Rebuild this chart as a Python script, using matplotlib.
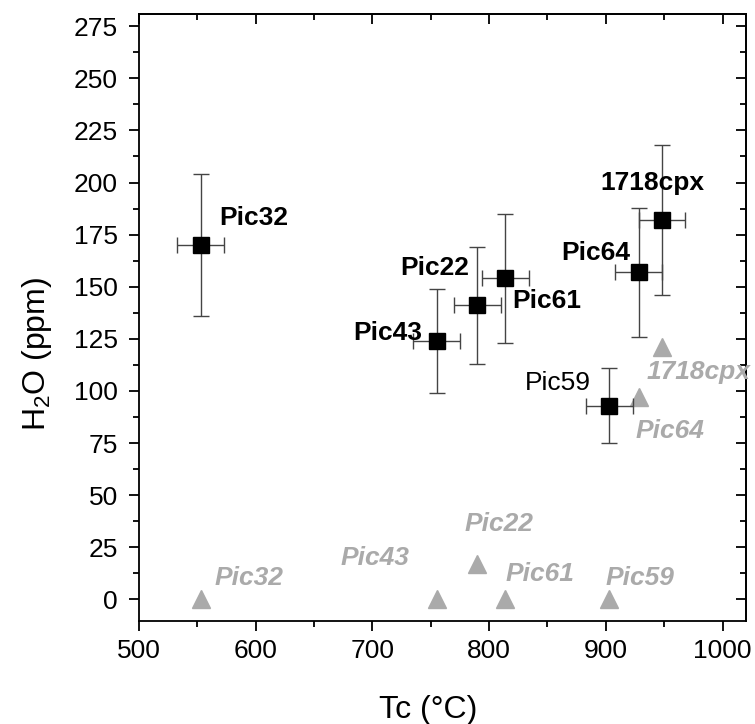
import numpy as np
import matplotlib
matplotlib.use('Agg')
import matplotlib.pyplot as plt
from matplotlib.ticker import MultipleLocator

plt.rcParams['font.family'] = ['Liberation Sans', 'DejaVu Sans']
plt.rcParams['mathtext.fontset'] = 'custom'
plt.rcParams['mathtext.rm'] = 'Liberation Sans'

# measured samples (squares with error bars)
names = ['Pic32', 'Pic43', 'Pic22', 'Pic61', 'Pic59', 'Pic64', '1718cpx']
tc = [553, 755, 790, 814, 903, 928, 948]
tc_err = [20, 20, 20, 20, 20, 20, 20]
h2o = [170, 124, 141, 154, 93, 157, 182]
h2o_err = [34, 25, 28, 31, 18, 31, 36]

# second series (grey triangles)
h2o_tri = [0, 0, 17, 0, 0, 97, 121]

# label positions (data coords)
lab_black = {
    'Pic32': (569, 183, 'left'),
    'Pic43': (743, 128, 'right'),
    'Pic22': (783, 159, 'right'),
    'Pic61': (820, 143, 'left'),
    'Pic59': (887, 104, 'right'),
    'Pic64': (921, 166, 'right'),
    '1718cpx': (895, 200, 'left'),
}
lab_grey = {
    'Pic32': (565, 10, 'left'),
    'Pic43': (732, 20, 'right'),
    'Pic22': (779, 36, 'left'),
    'Pic61': (814, 12, 'left'),
    'Pic59': (900, 10, 'left'),
    'Pic64': (925, 81, 'left'),
    '1718cpx': (935, 109, 'left'),
}

grey = '#aaaaaa'

fig = plt.figure(figsize=(7.55, 7.24), dpi=100)
ax = fig.add_axes([0.184, 0.142, 0.804, 0.839])

ax.plot(tc, h2o_tri, linestyle='none', marker='^', ms=13, color=grey, mec=grey, zorder=2)
ax.errorbar(tc, h2o, xerr=tc_err, yerr=h2o_err, fmt='s', ms=11, color='black',
            ecolor='#444444', elinewidth=1, capsize=6, capthick=1, zorder=3)

for n in names:
    x, y, ha = lab_black[n]
    ax.text(x, y, n, ha=ha, va='center', fontsize=19,
            fontweight='normal' if n == 'Pic59' else 'bold', color='black')
    x, y, ha = lab_grey[n]
    ax.text(x, y, n, ha=ha, va='center', fontsize=19, fontweight='bold',
            style='italic', color=grey)

ax.set_xlim(500, 1020)
ax.set_ylim(-10.5, 281)
ax.xaxis.set_major_locator(MultipleLocator(100))
ax.xaxis.set_minor_locator(MultipleLocator(50))
ax.yaxis.set_major_locator(MultipleLocator(25))
ax.yaxis.set_minor_locator(MultipleLocator(12.5))

ax.tick_params(which='both', direction='out', top=False, right=False, labelsize=19, width=1.3)
ax.tick_params(which='major', length=7)
ax.tick_params(which='minor', length=4)
ax.tick_params(axis='y', which='major', pad=8)
ax.tick_params(axis='x', which='major', pad=6)

# inward ticks on top and right
axt = ax.secondary_xaxis('top')
axt.xaxis.set_major_locator(MultipleLocator(100))
axt.xaxis.set_minor_locator(MultipleLocator(50))
axt.tick_params(which='both', direction='in', labeltop=False, width=1.3)
axt.tick_params(which='major', length=7)
axt.tick_params(which='minor', length=4)
axr = ax.secondary_yaxis('right')
axr.yaxis.set_major_locator(MultipleLocator(25))
axr.yaxis.set_minor_locator(MultipleLocator(12.5))
axr.tick_params(which='both', direction='in', labelright=False, width=1.3)
axr.tick_params(which='major', length=7)
axr.tick_params(which='minor', length=4)

for s in ax.spines.values():
    s.set_linewidth(1.3)
for a in (axt, axr):
    for s in a.spines.values():
        s.set_linewidth(1.3)

ax.set_xlabel('Tc (°C)', fontsize=23)
ax.set_ylabel(r'$\mathregular{H_2O}$ (ppm)', fontsize=23)
ax.xaxis.set_label_coords(0.476, -0.122)
ax.yaxis.set_label_coords(-0.14, 0.44)

fig.savefig('out.png', dpi=100)
